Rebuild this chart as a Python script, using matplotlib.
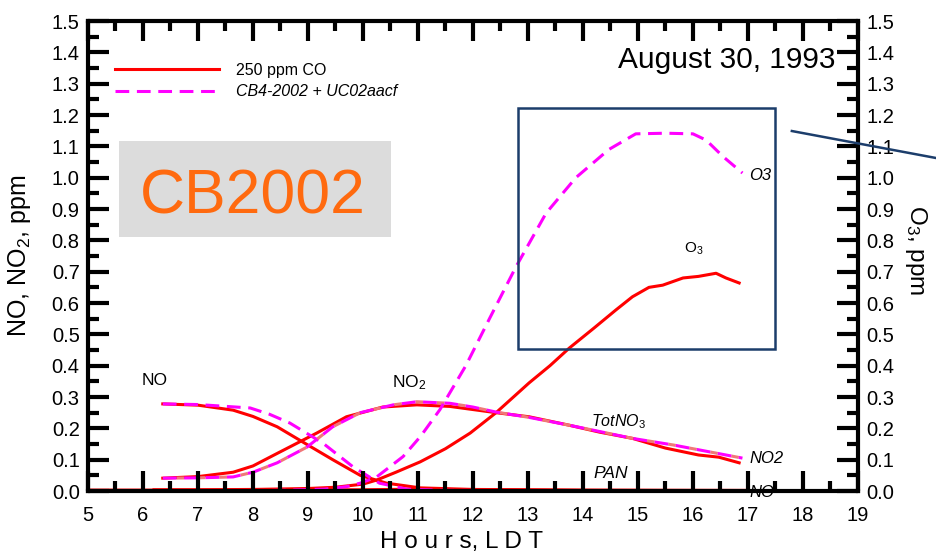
import matplotlib
matplotlib.use("Agg")
import matplotlib.pyplot as plt
from matplotlib.patches import Rectangle
from matplotlib.lines import Line2D

plt.rcParams['font.family'] = ['Liberation Sans', 'DejaVu Sans']
plt.rcParams['mathtext.fontset'] = 'custom'
plt.rcParams['mathtext.rm'] = 'Liberation Sans'
plt.rcParams['mathtext.it'] = 'Liberation Sans:italic'

# ---- data (hours LDT, ppm) ----
o3_base_x = [6.2, 7.0, 8.0, 9.0, 9.5, 10.0, 10.25, 10.6, 11.04, 11.5, 11.95, 12.42, 13.02, 13.4, 13.75, 14.2, 14.6, 14.9, 15.2, 15.45, 15.82, 16.1, 16.42, 16.6, 16.84]
o3_base_y = [0.004, 0.004, 0.005, 0.008, 0.012, 0.022, 0.035, 0.06, 0.093, 0.135, 0.185, 0.25, 0.345, 0.4, 0.456, 0.52, 0.578, 0.62, 0.65, 0.657, 0.68, 0.685, 0.695, 0.68, 0.664]
o3_new_x = [6.4, 7.5, 8.5, 9.3, 9.7, 9.95, 10.25, 10.73, 11.05, 11.4, 11.87, 12.3, 12.78, 13.33, 13.87, 14.47, 14.96, 15.5, 16.0, 16.24, 16.55, 16.9]
o3_new_y = [0.001, 0.001, 0.002, 0.006, 0.014, 0.025, 0.045, 0.11, 0.175, 0.26, 0.4, 0.55, 0.715, 0.887, 1.0, 1.09, 1.14, 1.142, 1.14, 1.12, 1.067, 1.015]

no_base_x = [6.36, 7.0, 7.64, 8.0, 8.44, 8.9, 9.45, 9.95, 10.43, 11.04, 12.0, 14.0, 17.0]
no_base_y = [0.278, 0.274, 0.258, 0.238, 0.205, 0.157, 0.1, 0.05, 0.025, 0.01, 0.005, 0.003, 0.002]
no_new_x = [6.36, 7.0, 7.95, 8.3, 8.67, 9.27, 9.82, 10.3, 10.8, 11.5, 13.0, 17.0]
no_new_y = [0.278, 0.276, 0.265, 0.245, 0.217, 0.153, 0.077, 0.025, 0.006, 0.002, 0.001, 0.001]

no2_base_x = [6.36, 7.0, 7.64, 8.0, 8.44, 9.16, 9.7, 10.36, 10.98, 11.58, 12.0, 12.42, 13.02, 13.75, 14.3, 14.9, 15.5, 16.1, 16.47, 16.84]
no2_base_y = [0.041, 0.046, 0.06, 0.08, 0.12, 0.185, 0.237, 0.268, 0.275, 0.27, 0.26, 0.25, 0.237, 0.21, 0.188, 0.168, 0.137, 0.115, 0.108, 0.09]
no2_new_x = [6.36, 7.0, 7.64, 8.0, 8.44, 8.98, 9.45, 9.95, 10.55, 10.98, 11.58, 12.0, 12.42, 13.02, 13.75, 14.3, 14.9, 15.64, 16.3, 16.9]
no2_new_y = [0.041, 0.042, 0.045, 0.06, 0.09, 0.14, 0.205, 0.25, 0.275, 0.285, 0.28, 0.268, 0.252, 0.235, 0.21, 0.19, 0.168, 0.147, 0.125, 0.105]

pan_base_x = [5.0, 6.3, 8.0, 10.0, 11.0, 12.0, 14.0, 17.0]
pan_base_y = [0.003, 0.003, 0.003, 0.004, 0.006, 0.004, 0.002, 0.001]
pan_new_x = [6.4, 10.0, 14.0, 17.0]
pan_new_y = [0.0, 0.001, 0.0, 0.0]

x_ticks = list(range(5, 20))
x_minor = [v + 0.5 for v in range(5, 19)]
y_ticks = [i / 10 for i in range(16)]
y_minor = [i / 10 + 0.05 for i in range(15)]
y_ticklabels = [f"{v:.1f}" for v in y_ticks]

legend_labels = ["250 ppm CO", "CB4-2002 + UC02aacf"]

RED = "#ff0000"
MAG = "#ff00ff"
SALMON = "#f07878"
NAVY = "#1c3d6b"

fig = plt.figure(figsize=(9.36, 5.54), dpi=100)
ax = fig.add_axes([0.094, 0.1137, 0.8226, 0.8483])
ax.set_xlim(5, 19)
ax.set_ylim(0, 1.5)

dash = (0, (4.5, 2.5))
lw = 2.2
ax.plot(pan_base_x, pan_base_y, color=RED, lw=lw)
ax.plot(pan_new_x, pan_new_y, color=MAG, lw=lw, linestyle=dash)
ax.plot(no_base_x, no_base_y, color=RED, lw=lw)
ax.plot(no2_base_x, no2_base_y, color=RED, lw=lw)
ax.plot(o3_base_x, o3_base_y, color=RED, lw=lw, label=legend_labels[0])
ax.plot(no_new_x, no_new_y, color=MAG, lw=lw, linestyle=dash)
ax.plot(no2_new_x, no2_new_y, color=MAG, lw=lw, linestyle=dash, gapcolor=SALMON)
ax.plot(o3_new_x, o3_new_y, color=MAG, lw=lw, linestyle=dash, label=legend_labels[1])

ax.set_xlim(5, 19)
ax.set_ylim(0, 1.5)
ax.set_xticks(x_ticks)
ax.set_yticks(y_ticks)
ax.set_yticklabels(y_ticklabels)

for s in ax.spines.values():
    s.set_linewidth(3.0)
    s.set_zorder(6)

ax.tick_params(axis='both', which='both', length=0, labelright=True, labelleft=True)
ax.tick_params(axis='x', labelsize=14.5, pad=11)
ax.tick_params(axis='y', labelsize=14.5, pad=6)

# inward ticks drawn as short segments (axes-fraction lengths)
xt = ax.get_xaxis_transform()
yt = ax.get_yaxis_transform()
LM_x, Lm_x = 20 / 470.0, 10 / 470.0
LM_y, Lm_y = 21 / 770.0, 11 / 770.0
TK = '#000000'
TW = 3.0
ax.vlines(x_ticks, 0, LM_x, transform=xt, color=TK, lw=TW, zorder=5, clip_on=False)
ax.vlines(x_minor, 0, Lm_x, transform=xt, color=TK, lw=TW, zorder=5, clip_on=False)
ax.vlines(x_ticks, 1 - LM_x, 1, transform=xt, color=TK, lw=TW, zorder=5, clip_on=False)
ax.vlines(x_minor, 1 - Lm_x, 1, transform=xt, color=TK, lw=TW, zorder=5, clip_on=False)
ax.hlines(y_ticks, 0, LM_y, transform=yt, color=TK, lw=TW, zorder=5, clip_on=False)
ax.hlines(y_minor, 0, Lm_y, transform=yt, color=TK, lw=TW, zorder=5, clip_on=False)
ax.hlines(y_ticks, 1 - LM_y, 1, transform=yt, color=TK, lw=TW, zorder=5, clip_on=False)
ax.hlines(y_minor, 1 - Lm_y, 1, transform=yt, color=TK, lw=TW, zorder=5, clip_on=False)

ax.set_xlabel("H o u r s, L D T", fontsize=17.5)
ax.xaxis.set_label_coords(0.485, -0.085)
ax.set_ylabel("NO, NO$_2$, ppm", fontsize=18)
ax.yaxis.set_label_coords(-0.072, 0.5)
ax.text(1.075, 0.513, "O$_3$, ppm", transform=ax.transAxes, rotation=270,
        fontsize=17.5, ha='center', va='center')

# legend
leg = ax.legend(loc='upper left', bbox_to_anchor=(0.035, 0.911), frameon=False,
                borderpad=0, borderaxespad=0,
                handlelength=6.5, handletextpad=1.05, fontsize=11.5, labelspacing=0.4)
leg.get_texts()[1].set_style('italic')

# annotations
ax.text(5.98, 0.338, "NO", fontsize=12.5)
ax.text(10.53, 0.332, "NO$_2$", fontsize=12.5)
ax.text(14.15, 0.207, r"$\it{TotNO}_3$", fontsize=11.5)
ax.text(14.2, 0.04, "PAN", fontsize=12.5, style='italic')
ax.text(17.02, 0.09, "NO2", fontsize=12, style='italic')
ax.text(17.02, -0.018, "NO", fontsize=12, style='italic', zorder=1)
ax.text(17.02, 0.993, "O3", fontsize=12, style='italic')
ax.text(15.84, 0.76, "O$_3$", fontsize=11)
ax.text(18.6, 1.35, "August 30, 1993", fontsize=21.5, ha='right')

# CB2002 box
ax.add_patch(Rectangle((5.564, 0.811), 4.946, 0.306, facecolor='#dcdcdc',
                       edgecolor='none', zorder=0.5))
ax.text(8.0, 0.887, "CB2002", fontsize=45, color='#ff6a0f', ha='center',
        va='baseline')

# highlight box and pointer line
ax.add_patch(Rectangle((12.82, 0.453), 4.67, 0.769, facecolor='none',
                       edgecolor=NAVY, lw=1.8, zorder=4))
fig.add_artist(Line2D([0.846, 1.0], [0.7635, 0.7148], color=NAVY, lw=1.8,
                      transform=fig.transFigure))

fig.savefig("out.png", dpi=100)
